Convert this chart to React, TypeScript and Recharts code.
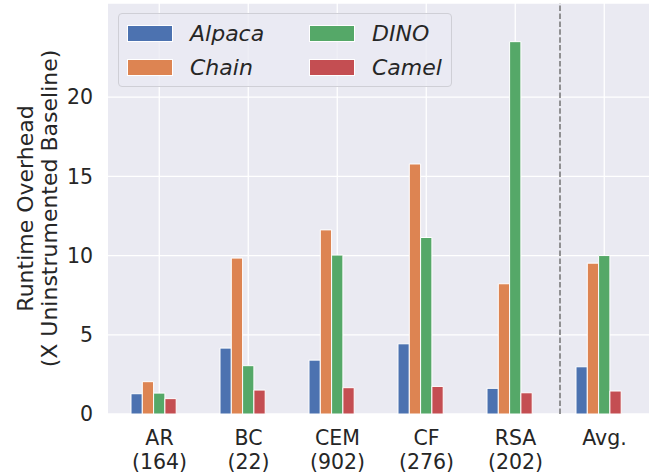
import React from "react"
import { BarChart, Bar, XAxis, YAxis, CartesianGrid, ReferenceLine, Legend } from "recharts"

const categories = ["AR", "BC", "CEM", "CF", "RSA", "Avg."]
const counts = ["(164)", "(22)", "(902)", "(276)", "(202)", ""]
const alpaca = [1.28, 4.16, 3.4, 4.43, 1.62, 2.98]
const chain = [2.04, 9.84, 11.62, 15.78, 8.22, 9.52]
const dino = [1.32, 3.05, 10.03, 11.14, 23.5, 10.0]
const camel = [0.97, 1.51, 1.66, 1.74, 1.34, 1.45]
const seriesNames = ["Alpaca", "Chain", "DINO", "Camel"]
const seriesColors = ["#4C72B0", "#DD8452", "#55A868", "#C44E52"]
const yTicks = [0, 5, 10, 15, 20]
const yMax = 25.94
// dashed separator drawn at the start of the "Avg." band
const separatorBefore = "Avg."
// the middle bar slot sits on the category centre, so its background carries the grid line
const centreSeries = "DINO"

const FONT = "'DejaVu Sans', sans-serif"
const TEXT = "#262626"
const X_PAD = 7

const data = categories.map((c, i) => ({
  name: c,
  Alpaca: alpaca[i],
  Chain: chain[i],
  DINO: dino[i],
  Camel: camel[i],
}))

// vertical white grid line, drawn behind the bars
const GridLine = ({ x, y, width, height }: any) => {
  const cx = x + width / 2
  return <line x1={cx} x2={cx} y1={y} y2={y + height} stroke="#ffffff" strokeWidth={1.3} />
}

const XTick = ({ x, y, payload }: any) => {
  const i = categories.indexOf(payload.value)
  return (
    <text x={x} y={y} textAnchor="middle" fontFamily={FONT} fontSize={20.5} fill={TEXT}>
      <tspan x={x} dy={31}>{payload.value}</tspan>
      {counts[i] ? <tspan x={x} dy={23.5}>{counts[i]}</tspan> : null}
    </text>
  )
}

const YLabel = ({ viewBox }: any) => {
  const cy = viewBox ? viewBox.y + viewBox.height / 2 : 208.5
  const lines = [
    { x: 32.5, t: "Runtime Overhead" },
    { x: 56.5, t: "(X Uninstrumented Baseline)" },
  ]
  return (
    <g>
      {lines.map((l) => (
        <text
          key={l.t}
          x={l.x}
          y={cy}
          transform={`rotate(-90, ${l.x}, ${cy})`}
          textAnchor="middle"
          fontFamily={FONT}
          fontSize={22}
          fill={TEXT}
        >
          {l.t}
        </text>
      ))}
    </g>
  )
}

const LegendBox = () => (
  <div
    style={{
      position: "relative",
      width: 334,
      height: 74,
      boxSizing: "border-box",
      border: "1px solid #cfcfd6",
      borderRadius: 4,
      background: "rgba(234,234,242,0.8)",
      fontFamily: FONT,
      fontSize: 22,
      fontStyle: "italic",
      color: TEXT,
    }}
  >
    {seriesNames.map((n, i) => {
      const col = Math.floor(i / 2)
      const row = i % 2
      return (
        <div
          key={n}
          style={{
            position: "absolute",
            left: 8 + col * 182,
            top: 2 + row * 34,
            height: 34,
            display: "flex",
            alignItems: "center",
            whiteSpace: "nowrap",
          }}
        >
          <span
            style={{
              display: "inline-block",
              width: 44,
              height: 15,
              background: seriesColors[i],
              border: "1px solid #fff",
              marginRight: 17,
            }}
          />
          <span>{n}</span>
        </div>
      )
    })}
  </div>
)

export default function App() {
  return (
    <div
      style={{
        position: "fixed",
        left: 0,
        top: 0,
        width: 649,
        height: 473,
        overflow: "hidden",
        background: "#fff",
      }}
    >
      <BarChart
        width={656}
        height={473}
        data={data}
        margin={{ top: 3, right: 0, bottom: 0, left: 0 }}
        barGap={0}
        barSize={11.3}
      >
        <CartesianGrid fill="#EAEAF2" stroke="#ffffff" strokeWidth={1.3} vertical={false} />
        <XAxis
          dataKey="name"
          height={59}
          padding={{ left: X_PAD, right: X_PAD }}
          axisLine={false}
          tickLine={false}
          tickSize={0}
          tickMargin={0}
          interval={0}
          tick={<XTick />}
        />
        <YAxis
          width={108}
          domain={[0, yMax]}
          ticks={yTicks}
          allowDataOverflow
          axisLine={false}
          tickLine={false}
          tickSize={0}
          tickMargin={15}
          tick={{ fontFamily: FONT, fontSize: 20.5, fill: TEXT }}
          label={<YLabel />}
        />
        <ReferenceLine
          x={separatorBefore}
          position="start"
          stroke="#7a7a7a"
          strokeWidth={1.6}
          strokeDasharray="5.5 2.4"
        />
        {seriesNames.map((n, i) => (
          <Bar
            key={n}
            dataKey={n}
            fill={seriesColors[i]}
            stroke="#ffffff"
            strokeWidth={1}
            background={n === centreSeries ? (p: any) => <GridLine {...p} /> : undefined}
            isAnimationActive={false}
          />
        ))}
        <Bar dataKey="pad" fill="transparent" isAnimationActive={false} />
        <Legend
          layout="vertical"
          align="center"
          verticalAlign="middle"
          wrapperStyle={{ left: 118, top: 13, width: 334, height: 74 }}
          content={() => <LegendBox />}
        />
      </BarChart>
    </div>
  )
}
